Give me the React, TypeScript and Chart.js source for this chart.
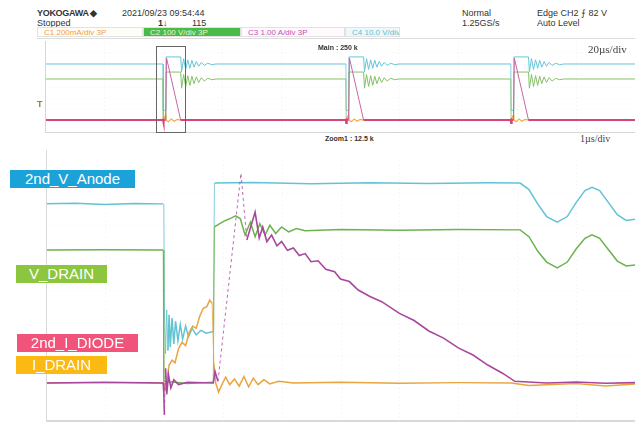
import React, { useEffect, useRef } from "react";
import { Chart, registerables } from "chart.js";

Chart.register(...registerables);

// ---------- Zoom window (1 µs/div), time in µs, amplitude in divisions ----------
const zoomTimeRange = [0, 10];
const zoomDivRange = [-1.14, 6.86];

const anodeTrace: [number, number][] = [
  [0, 5.51], [0.5, 5.53], [1.0, 5.49], [1.5, 5.52], [1.99, 5.51],
  [2.0, 5.51], [2.01, 2.3], [2.03, 0.9], [2.05, 2.25], [2.07, 1.0], [2.09, 2.1],
  [2.11, 1.1], [2.14, 2.0], [2.17, 1.2], [2.2, 1.9], [2.24, 1.3], [2.28, 1.8],
  [2.32, 1.35], [2.37, 1.75], [2.42, 1.42], [2.48, 1.68], [2.55, 1.48], [2.63, 1.62],
  [2.72, 1.53], [2.84, 1.58], [2.86, 6.15], [3.5, 6.17], [4.5, 6.13], [5.5, 6.16],
  [6.5, 6.14], [7.5, 6.16], [8.05, 6.15], [8.2, 5.95], [8.35, 5.5], [8.5, 5.12],
  [8.68, 4.95], [8.85, 5.12], [9.0, 5.55], [9.15, 5.92], [9.27, 6.02], [9.4, 5.92],
  [9.55, 5.55], [9.7, 5.18], [9.85, 5.0], [10.0, 5.04],
];

const drainVoltageTrace: [number, number][] = [
  [0, 4.09], [1.0, 4.1], [1.99, 4.09], [2.0, 0.05], [2.4, -0.02], [2.84, 0.02],
  [2.86, 4.8], [2.95, 4.9], [3.05, 5.0], [3.15, 5.08], [3.22, 5.14], [3.3, 5.05],
  [3.38, 4.55], [3.47, 4.95], [3.55, 4.5], [3.63, 4.9], [3.72, 4.55], [3.8, 4.85],
  [3.9, 4.6], [4.0, 4.8], [4.12, 4.65], [4.25, 4.75], [4.4, 4.68], [5.0, 4.72],
  [6.0, 4.7], [7.0, 4.72], [8.05, 4.71], [8.2, 4.5], [8.35, 4.05], [8.5, 3.72],
  [8.68, 3.54], [8.85, 3.72], [9.0, 4.12], [9.15, 4.45], [9.27, 4.56], [9.4, 4.45],
  [9.55, 4.1], [9.7, 3.75], [9.85, 3.6], [10.0, 3.63],
];

const diodeCurrentTrace: [number, number][] = [
  [0, 0.0], [1.0, 0.02], [1.99, 0.0], [2.0, -0.3], [2.01, -0.98], [2.03, 0.45],
  [2.05, -0.35], [2.08, 0.25], [2.12, -0.15], [2.17, 0.1], [2.25, -0.05], [2.4, 0.02],
  [2.84, 0.0], [2.87, 0.35], [2.92, 0.05], [3.31, 6.45], [3.41, 4.4], [3.55, 5.26],
  [3.62, 4.46], [3.68, 4.8], [3.75, 4.35], [3.83, 4.55], [3.92, 4.22], [4.0, 4.35],
  [4.1, 4.08], [4.2, 4.15], [4.3, 3.92], [4.4, 3.98], [4.5, 3.73], [4.62, 3.76],
  [4.75, 3.5], [4.9, 3.42], [5.0, 3.2], [5.15, 3.12], [5.3, 2.86], [5.5, 2.66],
  [5.7, 2.5], [6.0, 2.14], [6.25, 1.92], [6.5, 1.6], [6.75, 1.38], [7.0, 1.08],
  [7.25, 0.86], [7.5, 0.55], [7.75, 0.3], [7.96, 0.05], [8.5, 0.0], [9.0, 0.03],
  [9.5, -0.01], [10.0, 0.01],
];

const drainCurrentTrace: [number, number][] = [
  [0, 0.0], [1.0, 0.01], [1.99, 0.0], [2.02, -0.2], [2.05, 0.1], [2.09, 0.55],
  [2.14, 0.7], [2.19, 0.62], [2.25, 1.05], [2.31, 1.25], [2.37, 1.15], [2.43, 1.55],
  [2.49, 1.75], [2.55, 1.68], [2.61, 2.05], [2.67, 2.3], [2.73, 2.35], [2.78, 2.55],
  [2.82, 2.45], [2.85, 0.6], [2.88, 0.0], [2.93, -0.28], [3.0, 0.0], [3.05, 0.18],
  [3.12, -0.05], [3.2, 0.12], [3.28, -0.1], [3.36, 0.2], [3.44, -0.12], [3.52, 0.15],
  [3.6, -0.05], [3.7, 0.1], [3.8, -0.03], [3.95, 0.05], [4.2, 0.0], [5.0, 0.02],
  [6.0, -0.01], [7.0, 0.01], [7.9, 0.0], [8.2, -0.08], [8.6, -0.05], [9.0, -0.02],
  [9.5, -0.09], [10.0, -0.03],
];

// ---------- Main window (20 µs/div) ----------
const mainTimeRange = [0, 200];
const mainDivRange = [0, 8];
const mainPulseStarts = [40.0, 102.0, 157.9];
const zoomWindowMain = [37.6, 47.5];

const mainAnodeBase = 5.98;
const mainAnodePulse: [number, number][] = [
  [0, 5.98], [0.1, 1.9], [0.9, 1.9], [1.0, 6.6], [6.0, 6.6], [6.3, 5.3], [7.0, 6.45],
  [7.7, 5.5], [8.4, 6.35], [9.1, 5.6], [9.8, 6.3], [10.5, 5.7], [11.3, 6.2], [12.1, 5.78],
  [13, 6.12], [14, 5.85], [15.2, 6.05], [16.5, 5.92], [18, 5.98],
];
const mainDrainVBase = 4.66;
const mainDrainVPulse: [number, number][] = [
  [0, 4.66], [0.1, 1.05], [0.9, 1.05], [1.0, 5.27], [6.0, 5.27], [6.3, 3.85], [7.0, 5.05],
  [7.7, 4.0], [8.4, 4.95], [9.1, 4.1], [9.8, 4.9], [10.5, 4.25], [11.3, 4.85], [12.1, 4.35],
  [13, 4.78], [14, 4.48], [15.2, 4.72], [16.5, 4.6], [18, 4.66],
];
const mainDiodeBase = 1.05;
const mainDiodePulse: [number, number][] = [
  [0, 1.05], [0.1, 0.8], [0.3, 1.1], [0.9, 1.05], [1.2, 6.5], [6.0, 1.05],
];
const mainDrainIBase = 1.05;
const mainDrainIPulse: [number, number][] = [
  [0, 1.05], [0.3, 1.2], [0.6, 1.35], [0.9, 1.5], [1.0, 1.05], [1.8, 0.9], [2.8, 1.15],
  [3.8, 0.95], [4.8, 1.1], [6, 1.05],
];

const COLORS = {
  anode: "#62c3d3",
  drainV: "#6cb24e",
  diode: "#a8479d",
  drainI: "#eaa43e",
  mainAnode: "#66c6d6",
  mainDrainV: "#86c068",
  mainDiode: "#d8447c",
  mainDiodeRamp: "#c765a8",
  mainDrainI: "#f0b040",
};

const toXY = (arr: [number, number][]) => arr.map(([x, y]) => ({ x, y }));

function buildMainTrace(base: number, pulse: [number, number][]) {
  const pts: { x: number; y: number }[] = [{ x: mainTimeRange[0], y: base }];
  mainPulseStarts.forEach((p) => pulse.forEach(([dx, v]) => pts.push({ x: p + dx, y: v })));
  pts.push({ x: mainTimeRange[1], y: base });
  return pts;
}

function gridPlugin(id: string, xDivs: number, yDivs: number, extra?: (c: any) => void) {
  return {
    id,
    beforeDatasetsDraw(chart: any) {
      const { ctx, chartArea: a } = chart;
      ctx.save();
      ctx.strokeStyle = "rgba(0,0,0,0.05)";
      ctx.lineWidth = 1;
      ctx.setLineDash([1, 3]);
      for (let i = 1; i < xDivs; i++) {
        const x = Math.round(a.left + ((a.right - a.left) * i) / xDivs) + 0.5;
        ctx.beginPath(); ctx.moveTo(x, a.top); ctx.lineTo(x, a.bottom); ctx.stroke();
      }
      for (let j = 1; j < yDivs; j++) {
        const y = Math.round(a.top + ((a.bottom - a.top) * j) / yDivs) + 0.5;
        ctx.beginPath(); ctx.moveTo(a.left, y); ctx.lineTo(a.right, y); ctx.stroke();
      }
      ctx.restore();
    },
    afterDraw(chart: any) {
      if (extra) extra(chart);
    },
  };
}

const hidden = { display: false };

// steep, sparsely sampled edges look thin/dashed on the scope
const steep = (ctx: any) => {
  const dx = Math.abs(ctx.p1.x - ctx.p0.x);
  const dy = Math.abs(ctx.p1.y - ctx.p0.y);
  return dy > 40 && dy > dx * 4;
};

export default function App() {
  const mainRef = useRef<HTMLCanvasElement>(null);
  const zoomRef = useRef<HTMLCanvasElement>(null);

  useEffect(() => {
    const ds = (data: any[], color: string, width = 1.6, extra: any = {}) => ({
      data, borderColor: color, borderWidth: width, pointRadius: 0, tension: 0, fill: false,
      segment: {
        borderWidth: (c: any) => (steep(c) ? 0.8 : undefined),
        borderDash: (c: any) => (steep(c) && extra.dashEdges ? [3, 3] : undefined),
      },
      ...extra,
    });

    const zoomChart = new Chart(zoomRef.current!, {
      type: "line",
      data: {
        datasets: [
          ds(toXY(diodeCurrentTrace), COLORS.diode, 1.6, { dashEdges: true }),
          ds(toXY(drainCurrentTrace), COLORS.drainI, 1.5),
          ds(toXY(drainVoltageTrace), COLORS.drainV, 1.5),
          ds(toXY(anodeTrace), COLORS.anode, 1.5),
        ] as any,
      },
      options: {
        responsive: false,
        animation: false,
        events: [],
        layout: { padding: { left: 46, right: 0, top: 10, bottom: 4 } },
        plugins: { legend: { display: false }, tooltip: { enabled: false } },
        scales: {
          x: { type: "linear", min: zoomTimeRange[0], max: zoomTimeRange[1], ...hidden },
          y: { type: "linear", min: zoomDivRange[0], max: zoomDivRange[1], ...hidden },
        },
      },
      plugins: [
        gridPlugin("zoomGrid", 10, 8, (chart: any) => {
          const { ctx, chartArea: a } = chart;
          ctx.save();
          ctx.strokeStyle = "#d9d9d9";
          ctx.lineWidth = 1;
          ctx.beginPath(); ctx.moveTo(a.left + 0.5, 0); ctx.lineTo(a.left + 0.5, a.bottom); ctx.stroke();
          ctx.lineWidth = 2;
          ctx.beginPath(); ctx.moveTo(a.left, a.bottom + 1); ctx.lineTo(a.right, a.bottom + 1); ctx.stroke();
          ctx.restore();
        }),
      ],
    });

    const mainChart = new Chart(mainRef.current!, {
      type: "line",
      data: {
        datasets: [
          {
            ...ds(buildMainTrace(mainDiodeBase, mainDiodePulse), COLORS.mainDiode, 2),
            segment: {
              borderWidth: (c: any) => (Math.abs(c.p1.y - c.p0.y) > 8 ? 1 : undefined),
              borderColor: (c: any) => (Math.abs(c.p1.y - c.p0.y) > 8 ? COLORS.mainDiodeRamp : undefined),
            },
          },
          ds(buildMainTrace(mainDrainIBase, mainDrainIPulse), COLORS.mainDrainI, 1.2),
          ds(buildMainTrace(mainDrainVBase, mainDrainVPulse), COLORS.mainDrainV, 1),
          ds(buildMainTrace(mainAnodeBase, mainAnodePulse), COLORS.mainAnode, 1),
        ] as any,
      },
      options: {
        responsive: false,
        animation: false,
        events: [],
        layout: { padding: { left: 45, right: 0, top: 0, bottom: 1 } },
        plugins: { legend: { display: false }, tooltip: { enabled: false } },
        scales: {
          x: { type: "linear", min: mainTimeRange[0], max: mainTimeRange[1], ...hidden },
          y: { type: "linear", min: mainDivRange[0], max: mainDivRange[1], ...hidden },
        },
      },
      plugins: [
        gridPlugin("mainGrid", 10, 8, (chart: any) => {
          const { ctx, chartArea: a, scales } = chart;
          ctx.save();
          ctx.strokeStyle = "#d6d6d6";
          ctx.lineWidth = 1;
          ctx.beginPath(); ctx.moveTo(a.left + 0.5, 0); ctx.lineTo(a.left + 0.5, a.bottom); ctx.stroke();
          ctx.beginPath(); ctx.moveTo(a.left, a.bottom + 0.5); ctx.lineTo(a.right, a.bottom + 0.5); ctx.stroke();
          const x0 = Math.round(scales.x.getPixelForValue(zoomWindowMain[0])) + 0.5;
          const x1 = Math.round(scales.x.getPixelForValue(zoomWindowMain[1])) + 0.5;
          ctx.strokeStyle = "#666";
          ctx.strokeRect(x0, a.top + 5.5, x1 - x0, a.bottom - a.top - 5);
          ctx.restore();
        }),
      ],
    });

    return () => {
      zoomChart.destroy();
      mainChart.destroy();
    };
  }, []);

  const hdr: React.CSSProperties = {
    position: "absolute", fontSize: 9, lineHeight: "10px", color: "#333",
    fontFamily: "'Liberation Sans', Arial, sans-serif", whiteSpace: "nowrap",
  };
  const chBox = (left: number, width: number, bg: string, color: string, text: string): React.ReactNode => (
    <div style={{
      position: "absolute", left, top: 27, width, height: 10, background: bg,
      border: "1px solid #e2e2e2", boxSizing: "border-box", color, fontSize: 8,
      lineHeight: "9px", paddingLeft: 6, fontFamily: "'Liberation Sans', Arial, sans-serif",
      whiteSpace: "nowrap", overflow: "hidden",
    }}>{text}</div>
  );
  const tag = (left: number, top: number, width: number, bg: string, text: string): React.ReactNode => (
    <div style={{
      position: "absolute", left, top, width, height: 18, background: bg, color: "#fff",
      fontSize: 15, lineHeight: "18px", textAlign: "center",
      fontFamily: "'Liberation Sans', Arial, sans-serif", whiteSpace: "nowrap",
    }}>{text}</div>
  );

  return (
    <div style={{ position: "fixed", left: 0, top: 0, width: 635, height: 424, background: "#fff", overflow: "hidden" }}>
      <div style={{ ...hdr, left: 37, top: 8, fontWeight: "bold", letterSpacing: -0.3 }}>YOKOGAWA ◆</div>
      <div style={{ ...hdr, left: 122, top: 8 }}>2021/09/23 09:54:44</div>
      <div style={{ ...hdr, left: 37, top: 18, width: 125, borderBottom: "1px solid #999" }}>Stopped</div>
      <div style={{ ...hdr, left: 158, top: 18, fontWeight: "bold" }}>1↓</div>
      <div style={{ ...hdr, left: 192, top: 18 }}>115</div>
      <div style={{ ...hdr, left: 462, top: 8 }}>Normal</div>
      <div style={{ ...hdr, left: 462, top: 18 }}>1.25GS/s</div>
      <div style={{ ...hdr, left: 537, top: 8 }}>Edge CH2 ⨍ 82 V</div>
      <div style={{ ...hdr, left: 537, top: 18 }}>Auto Level</div>
      <div style={{ position: "absolute", left: 37, top: 38, width: 598, height: 1, background: "#dcdcdc" }} />

      {chBox(37, 106, "#fffdf8", "#f0a040", "C1  200mA/div 3P")}
      {chBox(143, 98, "#4cba48", "#e8f8d0", "C2  100 V/div 3P")}
      {chBox(241, 104, "#fffafd", "#c050b0", "C3  1.00 A/div 3P")}
      {chBox(345, 55, "#eef8fa", "#60c0d0", "C4  10.0 V/div")}

      <canvas ref={mainRef} width={635} height={92} style={{ position: "absolute", left: 0, top: 41, width: 635, height: 92 }} />
      <canvas ref={zoomRef} width={635} height={274} style={{ position: "absolute", left: 0, top: 150, width: 635, height: 274 }} />

      <div style={{ ...hdr, left: 318, top: 43, fontSize: 7, fontWeight: "bold" }}>Main : 250 k</div>
      <div style={{ ...hdr, left: 588, top: 43, fontSize: 11, lineHeight: "12px", fontFamily: "'Liberation Serif', serif", color: "#444" }}>20µs/div</div>
      <div style={{ ...hdr, left: 325, top: 134, fontSize: 7, fontWeight: "bold" }}>Zoom1 : 12.5 k</div>
      <div style={{ ...hdr, left: 580, top: 133, fontSize: 10, lineHeight: "11px", fontFamily: "'Liberation Serif', serif", color: "#444" }}>1µs/div</div>
      <div style={{ ...hdr, left: 37, top: 99, fontSize: 9, color: "#5a9a40", fontWeight: "bold" }}>T</div>

      {tag(10, 170, 125, "#1ba3d9", "2nd_V_Anode")}
      {tag(16, 265, 91, "#8cc63f", "V_DRAIN")}
      {tag(17, 334, 121, "#f0547a", "2nd_I_DIODE")}
      {tag(16, 356, 91, "#fcb813", "I_DRAIN")}
    </div>
  );
}
